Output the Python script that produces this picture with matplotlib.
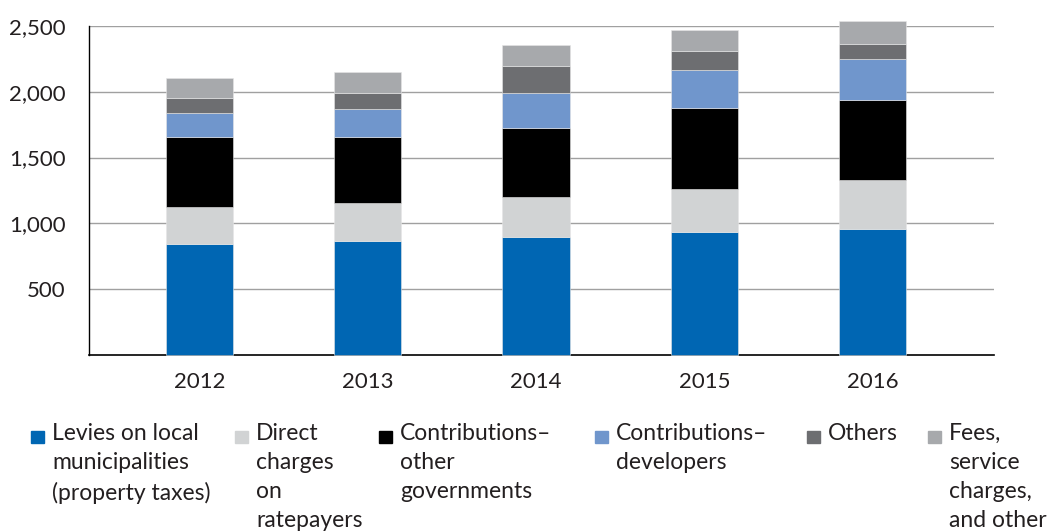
# 堆叠柱状图: 收入来源 2012-2016

import numpy as np
import matplotlib
matplotlib.use('Agg')
import matplotlib.pyplot as plt
from matplotlib.patches import Rectangle
from matplotlib.ticker import FuncFormatter

plt.rcParams['font.family'] = ['Lato', 'DejaVu Sans']

years = ['2012', '2013', '2014', '2015', '2016']

levies = [847, 870, 895, 935, 961]
direct = [280, 283, 304, 327, 367]
contrib_gov = [529, 501, 526, 617, 611]
contrib_dev = [180, 215, 265, 286, 311]
others = [119, 121, 205, 146, 114]
fees = [147, 157, 159, 159, 170]

labels = ['Levies on local\nmunicipalities\n(property taxes)',
          'Direct\ncharges\non\nratepayers',
          'Contributions–\nother\ngovernments',
          'Contributions–\ndevelopers',
          'Others',
          'Fees,\nservice\ncharges,\nand other']
colors = ['#0066b3', '#d1d3d4', '#000000', '#7096cc', '#6d6e71', '#a7a9ac']

series = [levies, direct, contrib_gov, contrib_dev, others, fees]

fig = plt.figure(figsize=(10.53, 5.31), dpi=100)
ax = fig.add_axes([0.0845, 0.331, 0.8595, 0.6205])

x = np.arange(len(years))
bottom = np.zeros(len(years))
for vals, c in zip(series, colors):
    ax.bar(x, vals, width=0.4, bottom=bottom, color=c,
           edgecolor='#e6e6e6', linewidth=0.4, zorder=3, clip_on=False)
    bottom += np.array(vals)

ax.set_xlim(-0.655, 4.72)
ax.set_ylim(0, 2500)
ax.set_yticks([500, 1000, 1500, 2000, 2500])
ax.yaxis.set_major_formatter(FuncFormatter(lambda v, p: f'{int(v):,}'))
ax.set_xticks(x)
ax.set_xticklabels(years)

ax.grid(axis='y', color='#a0a0a0', linewidth=1.0, zorder=0)
ax.tick_params(axis='y', length=0, pad=17, labelsize=16, labelcolor='#231f20')
ax.tick_params(axis='x', length=0, pad=12, labelsize=16, labelcolor='#231f20')

for s in ['top', 'right']:
    ax.spines[s].set_visible(False)
ax.spines['left'].set_linewidth(1.0)
ax.spines['bottom'].set_linewidth(1.2)

# 手动绘制图例 (多行文字, 顶部对齐)
marker_x = [31, 235, 379, 595, 807, 928]
W, H = 1053, 531
for mx, lab, c in zip(marker_x, labels, colors):
    fig.patches.append(Rectangle((mx / W, 1 - 443 / H), 12.5 / W, 12.5 / H,
                                 transform=fig.transFigure, color=c))
    fig.text((mx + 21) / W, 1 - 423 / H, lab, fontsize=16.5, va='top',
             ha='left', color='#231f20', linespacing=1.47)

fig.savefig('out.png', dpi=100)
